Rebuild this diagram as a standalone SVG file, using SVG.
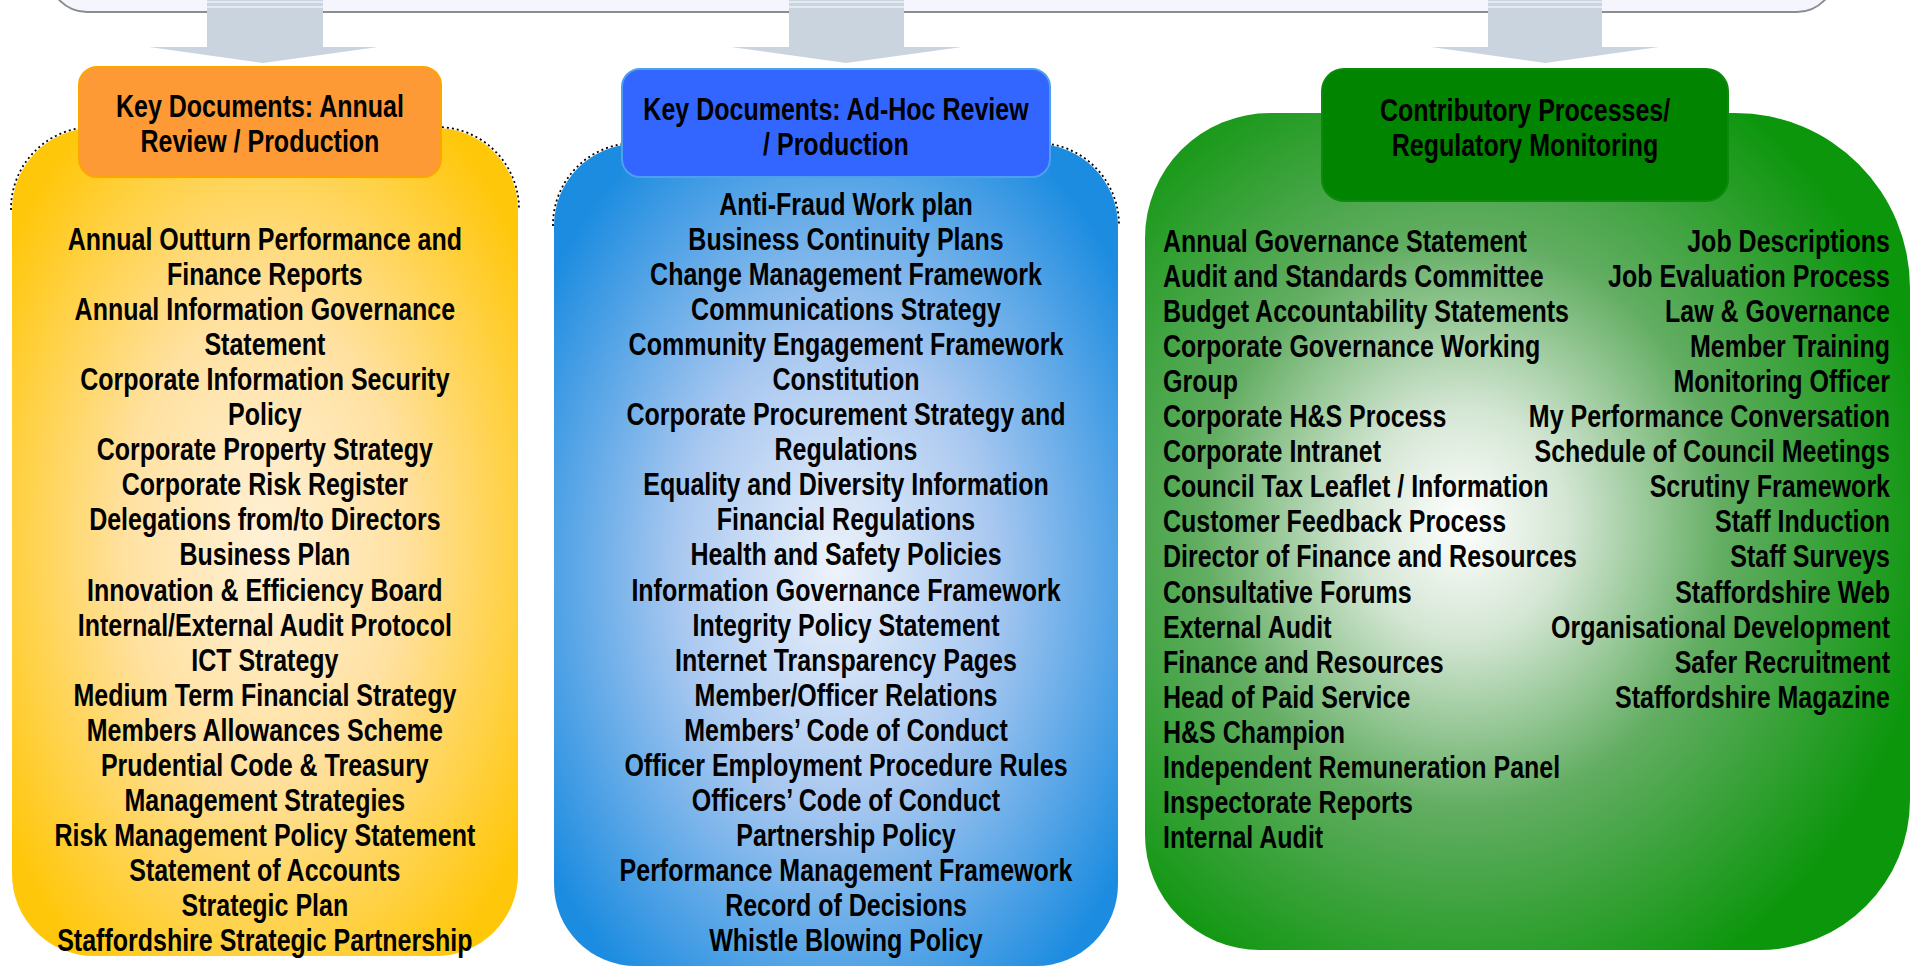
<svg xmlns="http://www.w3.org/2000/svg" width="1910" height="970" viewBox="0 0 1910 970">
  <defs>
    <radialGradient id="gradYellow" cx="0.5" cy="0.5" r="0.62">
      <stop offset="0" stop-color="#fff1d8"/>
      <stop offset="0.45" stop-color="#ffe1a0"/>
      <stop offset="1" stop-color="#ffc70a"/>
    </radialGradient>
    <radialGradient id="gradBlue" cx="0.5" cy="0.52" r="0.62">
      <stop offset="0" stop-color="#eef3fb"/>
      <stop offset="0.45" stop-color="#a9c8f0"/>
      <stop offset="1" stop-color="#1c8ce0"/>
    </radialGradient>
    <radialGradient id="gradGreen" cx="0.415" cy="0.49" r="0.62">
      <stop offset="0" stop-color="#ffffff"/>
      <stop offset="0.22" stop-color="#d4e6d4"/>
      <stop offset="0.55" stop-color="#62ad62"/>
      <stop offset="1" stop-color="#0c960c"/>
    </radialGradient>
    <style>
      text { font-family: "Liberation Sans", Arial, sans-serif; font-weight: bold; font-size: 30.5px; fill: #000; }
      .c { text-anchor: middle; }
      .l { text-anchor: start; }
      .r { text-anchor: end; }
      .arrow { fill: #c9d4df; }
      .stripe { stroke: #eef1f8; stroke-width: 1.5; }
      .jag { fill: none; stroke: #000; stroke-width: 1.8; stroke-dasharray: 2 3; }
    </style>
  </defs>

  <rect width="1910" height="970" fill="#ffffff"/>

  <!-- top banner, cut by the top edge -->
  <g id="banner">
    <rect x="49" y="-120" width="1786" height="132" rx="38" fill="#f4f5fd" stroke="#8c8c8c" stroke-width="2"/>
  </g>

  <!-- block arrows from the banner to the three headers -->
  <g id="connectors">
    <path class="arrow" d="M207,0 H323 V47 H378 L263,63 L149,47 H207 Z"/>
    <path class="arrow" d="M789,0 H904 V47 H962 L846,63 L731,47 H789 Z"/>
    <path class="arrow" d="M1488,0 H1602 V47 H1659 L1545,63 L1431,47 H1488 Z"/>
    <line class="stripe" x1="207" y1="2" x2="323" y2="2"/>
    <line class="stripe" x1="207" y1="7" x2="323" y2="7"/>
    <line class="stripe" x1="789" y1="2" x2="904" y2="2"/>
    <line class="stripe" x1="789" y1="7" x2="904" y2="7"/>
    <line class="stripe" x1="1488" y1="2" x2="1602" y2="2"/>
    <line class="stripe" x1="1488" y1="7" x2="1602" y2="7"/>
  </g>

  <!-- annual review documents (text drawn narrow: x values are divided by 0.82) -->
  <g id="annual">
    <path class="jag" d="M11,210 A82,82 0 0 1 93,127"/>
    <path class="jag" d="M437,127 A82,82 0 0 1 519,210"/>
    <rect x="12" y="128" width="506" height="828" rx="82" fill="url(#gradYellow)"/>
    <rect x="79" y="67" width="362" height="110" rx="18" fill="#fd9a35" stroke="#ffa500" stroke-width="2"/>
    <g transform="scale(0.82 1)">
      <text class="c" x="317" y="117">Key Documents: Annual</text>
      <text class="c" x="317" y="152">Review / Production</text>
      <text class="c" x="323" y="250">Annual Outturn Performance and</text>
      <text class="c" x="323" y="285">Finance Reports</text>
      <text class="c" x="323" y="320">Annual Information Governance</text>
      <text class="c" x="323" y="355">Statement</text>
      <text class="c" x="323" y="390">Corporate Information Security</text>
      <text class="c" x="323" y="425">Policy</text>
      <text class="c" x="323" y="460">Corporate Property Strategy</text>
      <text class="c" x="323" y="495">Corporate Risk Register</text>
      <text class="c" x="323" y="530">Delegations from/to Directors</text>
      <text class="c" x="323" y="565">Business Plan</text>
      <text class="c" x="323" y="601">Innovation &amp; Efficiency Board</text>
      <text class="c" x="323" y="636">Internal/External Audit Protocol</text>
      <text class="c" x="323" y="671">ICT Strategy</text>
      <text class="c" x="323" y="706">Medium Term Financial Strategy</text>
      <text class="c" x="323" y="741">Members Allowances Scheme</text>
      <text class="c" x="323" y="776">Prudential Code &amp; Treasury</text>
      <text class="c" x="323" y="811">Management Strategies</text>
      <text class="c" x="323" y="846">Risk Management Policy Statement</text>
      <text class="c" x="323" y="881">Statement of Accounts</text>
      <text class="c" x="323" y="916">Strategic Plan</text>
      <text class="c" x="323" y="951">Staffordshire Strategic Partnership</text>
    </g>
  </g>

  <!-- ad-hoc review documents -->
  <g id="adhoc">
    <path class="jag" d="M553,226 A82,82 0 0 1 635,143"/>
    <path class="jag" d="M1037,143 A82,82 0 0 1 1119,226"/>
    <rect x="554" y="144" width="564" height="822" rx="82" fill="url(#gradBlue)"/>
    <rect x="622" y="69" width="428" height="108" rx="18" fill="#3366ff" stroke="#4f9fef" stroke-width="2"/>
    <g transform="scale(0.82 1)">
      <text class="c" x="1019.5" y="120">Key Documents: Ad-Hoc Review</text>
      <text class="c" x="1019.5" y="155">/ Production</text>
      <text class="c" x="1031.7" y="215">Anti-Fraud Work plan</text>
      <text class="c" x="1031.7" y="250">Business Continuity Plans</text>
      <text class="c" x="1031.7" y="285">Change Management Framework</text>
      <text class="c" x="1031.7" y="320">Communications Strategy</text>
      <text class="c" x="1031.7" y="355">Community Engagement Framework</text>
      <text class="c" x="1031.7" y="390">Constitution</text>
      <text class="c" x="1031.7" y="425">Corporate Procurement Strategy and</text>
      <text class="c" x="1031.7" y="460">Regulations</text>
      <text class="c" x="1031.7" y="495">Equality and Diversity Information</text>
      <text class="c" x="1031.7" y="530">Financial Regulations</text>
      <text class="c" x="1031.7" y="565">Health and Safety Policies</text>
      <text class="c" x="1031.7" y="601">Information Governance Framework</text>
      <text class="c" x="1031.7" y="636">Integrity Policy Statement</text>
      <text class="c" x="1031.7" y="671">Internet Transparency Pages</text>
      <text class="c" x="1031.7" y="706">Member/Officer Relations</text>
      <text class="c" x="1031.7" y="741">Members’ Code of Conduct</text>
      <text class="c" x="1031.7" y="776">Officer Employment Procedure Rules</text>
      <text class="c" x="1031.7" y="811">Officers’ Code of Conduct</text>
      <text class="c" x="1031.7" y="846">Partnership Policy</text>
      <text class="c" x="1031.7" y="881">Performance Management Framework</text>
      <text class="c" x="1031.7" y="916">Record of Decisions</text>
      <text class="c" x="1031.7" y="951">Whistle Blowing Policy</text>
    </g>
  </g>

  <!-- contributory processes -->
  <g id="contributory">
    <path d="M1145,238 A125,125 0 0 1 1270,113 H1735 A175,175 0 0 1 1910,288 V800 A150,150 0 0 1 1760,950 H1260 A115,115 0 0 1 1145,835 Z" fill="url(#gradGreen)"/>
    <rect x="1322" y="69" width="406" height="132" rx="22" fill="#018501" stroke="#0b8a0b" stroke-width="2"/>
    <g transform="scale(0.82 1)">
      <text class="c" x="1859.8" y="121">Contributory Processes/</text>
      <text class="c" x="1859.8" y="156">Regulatory Monitoring</text>
      <text class="l" x="1418.3" y="252">Annual Governance Statement</text>
      <text class="l" x="1418.3" y="287">Audit and Standards Committee</text>
      <text class="l" x="1418.3" y="322">Budget Accountability Statements</text>
      <text class="l" x="1418.3" y="357">Corporate Governance Working</text>
      <text class="l" x="1418.3" y="392">Group</text>
      <text class="l" x="1418.3" y="427">Corporate H&amp;S Process</text>
      <text class="l" x="1418.3" y="462">Corporate Intranet</text>
      <text class="l" x="1418.3" y="497">Council Tax Leaflet / Information</text>
      <text class="l" x="1418.3" y="532">Customer Feedback Process</text>
      <text class="l" x="1418.3" y="567">Director of Finance and Resources</text>
      <text class="l" x="1418.3" y="603">Consultative Forums</text>
      <text class="l" x="1418.3" y="638">External Audit</text>
      <text class="l" x="1418.3" y="673">Finance and Resources</text>
      <text class="l" x="1418.3" y="708">Head of Paid Service</text>
      <text class="l" x="1418.3" y="743">H&amp;S Champion</text>
      <text class="l" x="1418.3" y="778">Independent Remuneration Panel</text>
      <text class="l" x="1418.3" y="813">Inspectorate Reports</text>
      <text class="l" x="1418.3" y="848">Internal Audit</text>
      <text class="r" x="2304.9" y="252">Job Descriptions</text>
      <text class="r" x="2304.9" y="287">Job Evaluation Process</text>
      <text class="r" x="2304.9" y="322">Law &amp; Governance</text>
      <text class="r" x="2304.9" y="357">Member Training</text>
      <text class="r" x="2304.9" y="392">Monitoring Officer</text>
      <text class="r" x="2304.9" y="427">My Performance Conversation</text>
      <text class="r" x="2304.9" y="462">Schedule of Council Meetings</text>
      <text class="r" x="2304.9" y="497">Scrutiny Framework</text>
      <text class="r" x="2304.9" y="532">Staff Induction</text>
      <text class="r" x="2304.9" y="567">Staff Surveys</text>
      <text class="r" x="2304.9" y="603">Staffordshire Web</text>
      <text class="r" x="2304.9" y="638">Organisational Development</text>
      <text class="r" x="2304.9" y="673">Safer Recruitment</text>
      <text class="r" x="2304.9" y="708">Staffordshire Magazine</text>
    </g>
  </g>
</svg>
